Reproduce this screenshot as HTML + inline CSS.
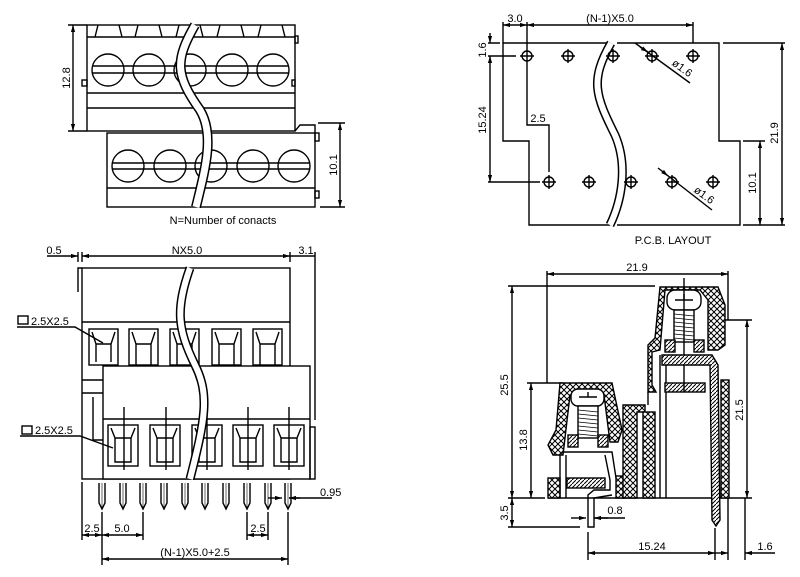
<!DOCTYPE html>
<html><head><meta charset="utf-8"><style>
html,body{margin:0;padding:0;background:#fff}
svg{display:block}
text{font-family:"Liberation Sans",sans-serif;font-size:11px;fill:#000}
</style></head><body>
<svg width="800" height="577" viewBox="0 0 800 577" xmlns="http://www.w3.org/2000/svg">
<defs>
<pattern id="xh" width="6" height="6" patternUnits="userSpaceOnUse">
<rect width="6" height="6" fill="#fff"/><path d="M0,0L6,6M6,0L0,6" stroke="#000" stroke-width="1"/></pattern>
<pattern id="sh" width="4" height="4" patternUnits="userSpaceOnUse">
<rect width="4" height="4" fill="#fff"/><path d="M0,4L4,0" stroke="#000" stroke-width="1"/></pattern>
<marker id="a" viewBox="0 0 10 10" refX="10" refY="5" markerWidth="7" markerHeight="5" orient="auto-start-reverse"><path d="M0,2L10,5L0,8z" fill="#000"/></marker>
</defs>
<g fill="none" stroke="#000" stroke-width="1.4">
<!-- TOP LEFT -->
<rect x="87" y="25" width="208" height="106" fill="#fff"/>
<line x1="87" y1="37" x2="295" y2="37"/>
<path d="M95,37L98,25M122,37L119,25M135,37L138,25M162,37L159,25M176,37L179,25M203,37L200,25M217,37L220,25M244,37L241,25M258,37L261,25M285,37L282,25"/>
<line x1="87" y1="93" x2="295" y2="93"/><line x1="87" y1="108" x2="295" y2="108"/>
<rect x="295" y="36" width="3" height="7"/><rect x="82" y="80" width="5" height="6"/><rect x="292" y="80" width="3" height="6"/>
<g>
<circle cx="108" cy="70" r="16"/><circle cx="149" cy="70" r="16"/><circle cx="190" cy="70" r="16"/><circle cx="232" cy="70" r="16"/><circle cx="273" cy="70" r="16"/>
<path d="M92,66H289M92,73H289"/>
</g>
<rect x="107" y="133" width="208" height="74" fill="#fff"/>
<path d="M295,131L300,125H315V133"/>
<line x1="107" y1="188" x2="315" y2="188"/>
<rect x="315" y="133" width="4" height="8"/><rect x="315" y="191" width="4" height="7"/>
<circle cx="128" cy="166" r="16"/><circle cx="170" cy="166" r="16"/><circle cx="211" cy="166" r="16"/><circle cx="253" cy="166" r="16"/><circle cx="294" cy="166" r="16"/>
<path d="M112,163H310M112,169H310"/>
<path d="M195,25C175,60 175,75 200,110C215,135 205,170 196,207" stroke="#000" stroke-width="10"/>
<path d="M195,25C175,60 175,75 200,110C215,135 205,170 196,207" stroke="#fff" stroke-width="7"/>
<line x1="73" y1="25" x2="73" y2="131" marker-start="url(#a)" marker-end="url(#a)"/>
<path d="M68,25H87M68,131H87"/>
<line x1="340" y1="123" x2="340" y2="207" marker-start="url(#a)" marker-end="url(#a)"/>
<path d="M318,123H345M320,207H345"/>

<!-- TOP RIGHT -->
<path d="M610,43H503V141H529V225H610M617,225H740V141H719V43H617"/>
<path d="M611,43C590,80 595,95 615,135C628,165 622,200 610,225" stroke="#000" stroke-width="9"/>
<path d="M611,43C590,80 595,95 615,135C628,165 622,200 610,225" stroke="#fff" stroke-width="6"/>
<g>
<circle cx="527" cy="56" r="5"/><circle cx="568" cy="56" r="5"/><circle cx="613" cy="56" r="5"/><circle cx="652" cy="56" r="5"/><circle cx="693" cy="56" r="5"/>
<circle cx="549" cy="182" r="5"/><circle cx="589" cy="182" r="5"/><circle cx="631" cy="182" r="5"/><circle cx="672" cy="182" r="5"/><circle cx="713" cy="182" r="5"/>
<path d="M520,56h14M527,49v14M561,56h14M568,49v14M606,56h14M613,49v14M645,56h14M652,49v14M686,56h14M693,49v14M542,182h14M549,175v14M582,182h14M589,175v14M624,182h14M631,175v14M665,182h14M672,175v14M706,182h14M713,175v14"/>
</g>
<line x1="503" y1="25" x2="527" y2="25" marker-start="url(#a)" marker-end="url(#a)"/>
<line x1="527" y1="25" x2="693" y2="25" marker-start="url(#a)" marker-end="url(#a)"/>
<path d="M503,22V43M527,22V49M693,22V43"/>
<path d="M488,43H500M488,56H516"/>
<line x1="490" y1="33" x2="490" y2="43" marker-end="url(#a)"/>
<line x1="490" y1="56" x2="490" y2="182" marker-start="url(#a)" marker-end="url(#a)"/>
<path d="M488,182H540M527,63V125H549V172"/>
<line x1="635" y1="43" x2="690" y2="83"/><line x1="640" y1="47" x2="648" y2="52" marker-end="url(#a)"/>
<line x1="658" y1="168" x2="712" y2="210"/><line x1="662" y1="171" x2="668" y2="176" marker-end="url(#a)"/>
<line x1="782" y1="43" x2="782" y2="225" marker-start="url(#a)" marker-end="url(#a)"/>
<path d="M723,43H785M743,225H785M743,141H765"/>
<line x1="760" y1="141" x2="760" y2="225" marker-start="url(#a)" marker-end="url(#a)"/>

<!-- BOTTOM LEFT -->
<rect x="82" y="268" width="208" height="211" fill="#fff"/>
<path d="M78,292V268H82"/>
<line x1="82" y1="322" x2="290" y2="322"/>
<g>
<rect x="89" y="329" width="29" height="36"/><rect x="129" y="329" width="29" height="36"/><rect x="170" y="329" width="29" height="36"/><rect x="212" y="329" width="29" height="36"/><rect x="253" y="329" width="29" height="36"/>
<path d="M92,332L96,344V362M115,332L111,344V362M96,344H111M132,332L136,344V365M155,332L151,344V365M136,344H151M173,332L177,344V365M196,332L192,344V365M177,344H192M215,332L219,344V365M238,332L234,344V365M219,344H234M256,332L260,344V365M279,332L275,344V365M260,344H275"/>
</g>
<path d="M82,380H103M82,393H103M93,397V440H103"/>
<rect x="103" y="366" width="207" height="113" fill="#fff"/>
<line x1="103" y1="419" x2="310" y2="419"/>
<rect x="310" y="427" width="5" height="52"/>
<g>
<rect x="108" y="425" width="30" height="41"/><rect x="150" y="425" width="30" height="41"/><rect x="192" y="425" width="30" height="41"/><rect x="233" y="425" width="30" height="41"/><rect x="274" y="425" width="30" height="41"/>
<path d="M111,428L115,438V462H131V438L135,428M115,438H131M153,428L157,438V462H173V438L177,428M157,438H173M195,428L199,438V462H215V438L219,428M199,438H215M236,428L240,438V462H256V438L260,428M240,438H256M277,428L281,438V462H297V438L301,428M281,438H297"/>
<path d="M124,407V470M166,407V470M207,407V470M248,407V470M289,407V470"/>
</g>
<g>
<path d="M99,483V503L102,509L105,503V483M120,483V503L123,509L126,503V483M140,483V503L143,509L146,503V483M161,483V503L164,509L167,503V483M182,483V503L185,509L188,503V483M202,483V503L205,509L208,503V483M223,483V503L226,509L229,503V483M244,483V503L247,509L250,503V483M265,483V503L268,509L271,503V483M285,483V503L288,509L291,503V483"/>
<path d="M102,483V509M123,483V509M143,483V509M164,483V509M185,483V509M205,483V509M226,483V509M247,483V509M268,483V509M288,483V509" stroke-width="0.6"/>
</g>
<path d="M190,268C175,310 178,330 195,365C210,395 205,420 190,479" stroke="#000" stroke-width="9"/>
<path d="M190,268C175,310 178,330 195,365C210,395 205,420 190,479" stroke="#fff" stroke-width="6"/>
<line x1="47" y1="256" x2="78" y2="256" marker-end="url(#a)"/>
<line x1="82" y1="256" x2="290" y2="256" marker-start="url(#a)" marker-end="url(#a)"/>
<line x1="290" y1="256" x2="315" y2="256"/>
<path d="M78,252V262M82,252V262M290,252V262M315,252V420"/>
<path d="M17,327H75L103,343M20,436H80L113,448"/>
<rect x="18" y="316" width="10" height="8"/><rect x="22" y="426" width="10" height="8"/>
<line x1="268" y1="498" x2="282" y2="498" marker-end="url(#a)"/>
<line x1="300" y1="498" x2="289" y2="498" marker-end="url(#a)"/>
<line x1="289" y1="498" x2="332" y2="498"/>
<path d="M82,482V540M102,512V565M143,512V540M247,512V540M268,512V540M288,512V565"/>
<line x1="82" y1="535" x2="102" y2="535" marker-start="url(#a)" marker-end="url(#a)"/>
<line x1="102" y1="535" x2="143" y2="535" marker-start="url(#a)" marker-end="url(#a)"/>
<line x1="247" y1="535" x2="268" y2="535" marker-start="url(#a)" marker-end="url(#a)"/>
<line x1="102" y1="559" x2="288" y2="559" marker-start="url(#a)" marker-end="url(#a)"/>

<!-- BOTTOM RIGHT -->
<line x1="547" y1="274" x2="728" y2="274" marker-start="url(#a)" marker-end="url(#a)"/>
<path d="M547,271V383M728,271V320"/>
<path d="M508,286H655M508,498H545M508,527H580"/>
<line x1="512" y1="286" x2="512" y2="498" marker-start="url(#a)" marker-end="url(#a)"/>
<line x1="512" y1="498" x2="512" y2="527" marker-start="url(#a)" marker-end="url(#a)"/>
<path d="M527,383H563"/>
<line x1="531" y1="383" x2="531" y2="498" marker-start="url(#a)" marker-end="url(#a)"/>
<path d="M720,320H752M728,498H752"/>
<line x1="747" y1="320" x2="747" y2="498" marker-start="url(#a)" marker-end="url(#a)"/>
<path d="M588,532V560M715,528V560M728,498V560M745,498V560"/>
<line x1="588" y1="553" x2="715" y2="553" marker-start="url(#a)" marker-end="url(#a)"/>
<line x1="775" y1="553" x2="745" y2="553" marker-end="url(#a)"/>
<line x1="715" y1="553" x2="728" y2="553" marker-end="url(#a)"/>
<line x1="571" y1="518" x2="586" y2="518" marker-end="url(#a)"/>
<line x1="608" y1="518" x2="594" y2="518" marker-end="url(#a)"/>
<line x1="594" y1="518" x2="625" y2="518"/>
<line x1="548" y1="498" x2="728" y2="498"/>
<path d="M560,383H612L622,430L618,442H610L604,395H570L563,455H553L548,445L556,430Z" fill="url(#xh)"/>
<rect x="548" y="478" width="12" height="20" fill="url(#xh)"/>
<rect x="571" y="389" width="33" height="17" rx="7" fill="#fff"/>
<path d="M579,397H597M588,392V397"/>
<rect x="578" y="406" width="20" height="32" fill="#fff"/>
<path d="M578,410L598,412M578,414L598,416M578,418L598,420M578,422L598,424M578,426L598,428M578,430L598,432M578,434L598,436" stroke-width="0.8"/>
<rect x="568" y="435" width="10" height="12" fill="url(#sh)"/><rect x="598" y="435" width="10" height="12" fill="url(#sh)"/>
<path d="M560,455V498M566,455V498M562,452H612L616,478L622,482V498"/>
<rect x="567" y="478" width="38" height="10" fill="url(#sh)"/>
<path d="M605,455L610,480V490H594L588,495V527H594V498L612,495"/>
<rect x="616" y="476" width="8" height="22" fill="url(#xh)"/>
<path d="M623,405H645V412H637V498H623Z" fill="url(#xh)"/>
<rect x="643" y="412" width="12" height="86" fill="url(#xh)"/>
<path d="M660,287H718L725,305V345L718,350H708V300L700,290H665L660,350L652,352V385L656,392H648V345L655,338Z" fill="url(#xh)"/>
<rect x="721" y="380" width="8" height="118" fill="url(#xh)"/>
<path d="M660,355V498M666,360V498M648,392V405"/>
<rect x="667" y="290" width="34" height="20" rx="8" fill="#fff"/>
<path d="M675,300H693M684,294V300"/>
<rect x="674" y="310" width="20" height="32" fill="#fff"/>
<path d="M674,314L694,316M674,318L694,320M674,322L694,324M674,326L694,328M674,330L694,332M674,334L694,336M674,338L694,340" stroke-width="0.8"/>
<rect x="665" y="340" width="10" height="12" fill="url(#sh)"/><rect x="694" y="340" width="10" height="12" fill="url(#sh)"/>
<rect x="665" y="383" width="40" height="9" fill="url(#sh)"/>
<path d="M684,278V392"/>
<path d="M662,355H712L718,365L720,520L716,526L712,520L710,365H662Z" fill="url(#sh)"/>
</g>
<g>
<text x="70" y="78" transform="rotate(-90 70 78)" text-anchor="middle">12.8</text>
<text x="337" y="165" transform="rotate(-90 337 165)" text-anchor="middle">10.1</text>
<text x="223" y="224" text-anchor="middle">N=Number of conacts</text>
<text x="515" y="22" text-anchor="middle">3.0</text>
<text x="610" y="22" text-anchor="middle">(N-1)X5.0</text>
<text x="486" y="50" transform="rotate(-90 486 50)" text-anchor="middle">1.6</text>
<text x="486" y="120" transform="rotate(-90 486 120)" text-anchor="middle">15.24</text>
<text x="538" y="122" text-anchor="middle">2.5</text>
<text x="680" y="71" transform="rotate(36 680 71)" text-anchor="middle">ø1.6</text>
<text x="702" y="198" transform="rotate(36 702 198)" text-anchor="middle">ø1.6</text>
<text x="778" y="133" transform="rotate(-90 778 133)" text-anchor="middle">21.9</text>
<text x="756" y="183" transform="rotate(-90 756 183)" text-anchor="middle">10.1</text>
<text x="673" y="244" text-anchor="middle">P.C.B. LAYOUT</text>
<text x="54" y="254" text-anchor="middle">0.5</text>
<text x="187" y="254" text-anchor="middle">NX5.0</text>
<text x="306" y="254" text-anchor="middle">3.1</text>
<text x="31" y="325">2.5X2.5</text>
<text x="35" y="434">2.5X2.5</text>
<text x="320" y="496">0.95</text>
<text x="92" y="532" text-anchor="middle">2.5</text>
<text x="122" y="532" text-anchor="middle">5.0</text>
<text x="258" y="532" text-anchor="middle">2.5</text>
<text x="195" y="556" text-anchor="middle">(N-1)X5.0+2.5</text>
<text x="637" y="271" text-anchor="middle">21.9</text>
<text x="508" y="385" transform="rotate(-90 508 385)" text-anchor="middle">25.5</text>
<text x="527" y="440" transform="rotate(-90 527 440)" text-anchor="middle">13.8</text>
<text x="508" y="513" transform="rotate(-90 508 513)" text-anchor="middle">3.5</text>
<text x="743" y="410" transform="rotate(-90 743 410)" text-anchor="middle">21.5</text>
<text x="615" y="514" text-anchor="middle">0.8</text>
<text x="652" y="550" text-anchor="middle">15.24</text>
<text x="765" y="550" text-anchor="middle">1.6</text>
</g>
</svg>
</body></html>
